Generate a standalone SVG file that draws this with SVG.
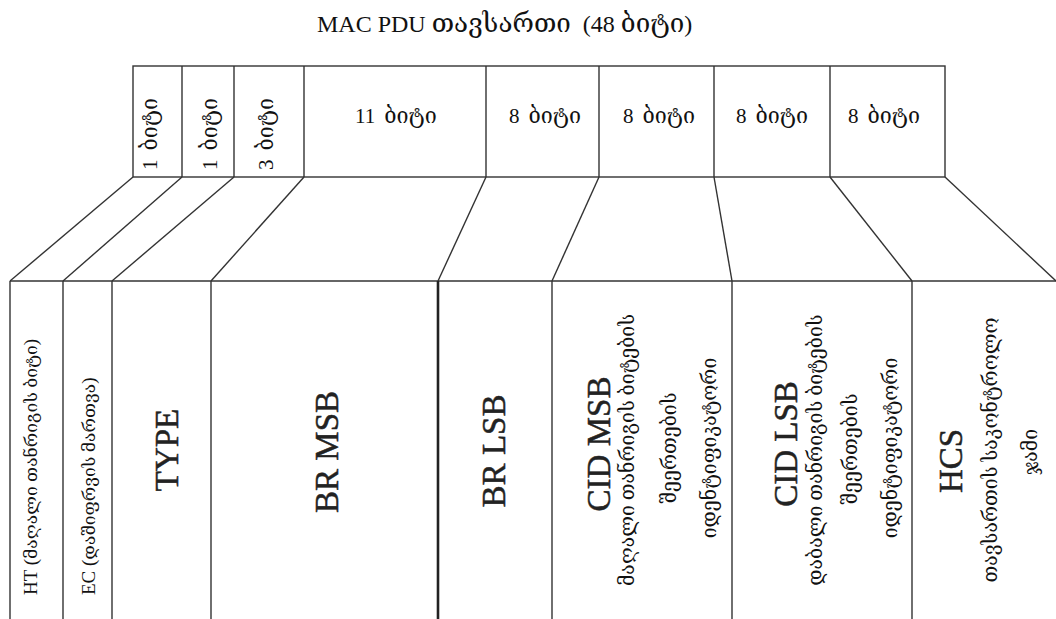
<svg xmlns="http://www.w3.org/2000/svg" width="1056" height="619" viewBox="0 0 1056 619">
  <style>
    .ln { stroke: #333; stroke-width: 1.4; fill: none; }
    .thick { stroke: #222; stroke-width: 2.6; fill: none; }
    text { font-family: "Liberation Serif", "DejaVu Serif", serif; fill: #111; }
    .title { font-size: 24px; }
    .title .g { font-size: 26px; }
    .bits { font-size: 21px; }
    .bits .g { font-size: 21.5px; }
    .big { font-size: 33px; fill: #222; stroke: #222; stroke-width: 0.5; }
    .geo { font-size: 19.5px; }
    .lbl { font-size: 19px; }
    .lbl .g { font-size: 17.5px; }
  </style>
  <rect width="1056" height="619" fill="#fff"/>

  <text class="title" x="317" y="32">MAC PDU <tspan class="g">თავსართი</tspan><tspan dx="12">(48 </tspan><tspan class="g">ბიტი</tspan>)</text>

  <!-- header fields (top row) -->
  <g id="header">
    <rect class="ln" x="133" y="66" width="812" height="111"/>
    <line class="ln" x1="182" y1="66" x2="182" y2="177"/>
    <line class="ln" x1="234" y1="66" x2="234" y2="177"/>
    <line class="ln" x1="304" y1="66" x2="304" y2="177"/>
    <line class="ln" x1="486" y1="66" x2="486" y2="177"/>
    <line class="ln" x1="599" y1="66" x2="599" y2="177"/>
    <line class="ln" x1="714" y1="66" x2="714" y2="177"/>
    <line class="ln" x1="830" y1="66" x2="830" y2="177"/>
  </g>
  <g id="w-ht"><text class="bits" transform="translate(157,170) rotate(-90)">1<tspan class="g" dx="9">ბიტი</tspan></text></g>
  <g id="w-ec"><text class="bits" transform="translate(217,170) rotate(-90)">1<tspan class="g" dx="9">ბიტი</tspan></text></g>
  <g id="w-type"><text class="bits" transform="translate(273,170) rotate(-90)">3<tspan class="g" dx="9">ბიტი</tspan></text></g>
  <g id="w-brmsb"><text class="bits" x="355" y="123">11<tspan class="g" dx="9">ბიტი</tspan></text></g>
  <g id="w-brlsb"><text class="bits" x="509" y="123">8<tspan class="g" dx="9">ბიტი</tspan></text></g>
  <g id="w-cidmsb"><text class="bits" x="623" y="123">8<tspan class="g" dx="9">ბიტი</tspan></text></g>
  <g id="w-cidlsb"><text class="bits" x="736" y="123">8<tspan class="g" dx="9">ბიტი</tspan></text></g>
  <g id="w-hcs"><text class="bits" x="848" y="123">8<tspan class="g" dx="9">ბიტი</tspan></text></g>

  <!-- fan-out connectors between the rows -->
  <g id="connectors">
    <line class="ln" x1="133" y1="177" x2="10" y2="281"/>
    <line class="ln" x1="182" y1="177" x2="63" y2="281"/>
    <line class="ln" x1="234" y1="177" x2="112" y2="281"/>
    <line class="ln" x1="304" y1="177" x2="211" y2="281"/>
    <line class="ln" x1="486" y1="177" x2="438" y2="281"/>
    <line class="ln" x1="599" y1="177" x2="552" y2="281"/>
    <line class="ln" x1="714" y1="177" x2="732" y2="281"/>
    <line class="ln" x1="830" y1="177" x2="912" y2="281"/>
    <line class="ln" x1="945" y1="177" x2="1056" y2="281"/>
  </g>

  <!-- expanded fields (bottom row) -->
  <g id="fields">
    <line class="ln" x1="10" y1="281" x2="1056" y2="281"/>
    <line class="ln" x1="10" y1="281" x2="10" y2="619"/>
    <line class="ln" x1="63" y1="281" x2="63" y2="619"/>
    <line class="ln" x1="112" y1="281" x2="112" y2="619"/>
    <line class="ln" x1="211" y1="281" x2="211" y2="619"/>
    <line class="thick" x1="438" y1="281" x2="438" y2="619"/>
    <line class="ln" x1="552" y1="281" x2="552" y2="619"/>
    <line class="ln" x1="732" y1="281" x2="732" y2="619"/>
    <line class="ln" x1="912" y1="281" x2="912" y2="619"/>
  </g>

  <g id="f-ht"><text class="lbl" transform="translate(37,595) rotate(-90)">HT (<tspan class="g">მაღალი თანრიგის ბიტი</tspan>)</text></g>
  <g id="f-ec"><text class="lbl" transform="translate(95,595) rotate(-90)">EC (<tspan class="g">დაშიფრვის მართვა</tspan>)</text></g>
  <g id="f-type"><text class="big" transform="translate(178,450) rotate(-90)" text-anchor="middle">TYPE</text></g>
  <g id="f-brmsb"><text class="big" transform="translate(338,452) rotate(-90)" text-anchor="middle">BR MSB</text></g>
  <g id="f-brlsb"><text class="big" transform="translate(505,451) rotate(-90)" text-anchor="middle">BR LSB</text></g>
  <g id="f-cidmsb">
    <text class="big" transform="translate(610,444) rotate(-90)" text-anchor="middle">CID MSB</text>
    <text class="geo" transform="translate(634,450) rotate(-90)" text-anchor="middle">მაღალი თანრიგის ბიტების</text>
    <text class="geo" transform="translate(676,448) rotate(-90)" text-anchor="middle">შეერთების</text>
    <text class="geo" transform="translate(716,448) rotate(-90)" text-anchor="middle">იდენტიფიკატორი</text>
  </g>
  <g id="f-cidlsb">
    <text class="big" transform="translate(797,444) rotate(-90)" text-anchor="middle">CID LSB</text>
    <text class="geo" transform="translate(822,450) rotate(-90)" text-anchor="middle">დაბალი თანრიგის ბიტების</text>
    <text class="geo" transform="translate(857,449) rotate(-90)" text-anchor="middle">შეერთების</text>
    <text class="geo" transform="translate(897,448) rotate(-90)" text-anchor="middle">იდენტიფიკატორი</text>
  </g>
  <g id="f-hcs">
    <text class="big" transform="translate(962,461) rotate(-90)" text-anchor="middle">HCS</text>
    <text class="geo" transform="translate(997,450) rotate(-90)" text-anchor="middle">თავსართის საკონტროლო</text>
    <text class="geo" transform="translate(1037,452) rotate(-90)" text-anchor="middle">ჯამი</text>
  </g>
</svg>
